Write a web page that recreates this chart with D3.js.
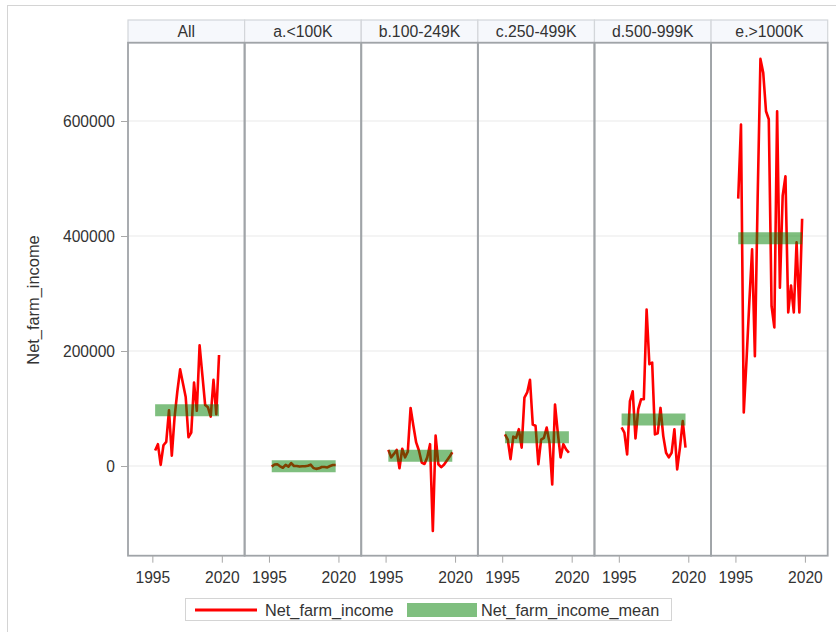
<!DOCTYPE html>
<html><head><meta charset="utf-8">
<script src="https://cdn.jsdelivr.net/npm/d3@7"></script>
<style>body{margin:0;background:#fff} text{font-family:"Liberation Sans",Arial,Helvetica,sans-serif;fill:#333}</style>
</head><body><svg id="c" width="836" height="632"></svg>
<script>
const categories = ["All","a.<100K","b.100-249K","c.250-499K","d.500-999K","e.>1000K"];
const years = [1996,1997,1998,1999,2000,2001,2002,2003,2004,2005,2006,2007,2008,2009,2010,2011,2012,2013,2014,2015,2016,2017,2018,2019];
const incomeAll = [27000,38000,2000,36000,42000,97000,18000,85000,130000,168000,144000,120000,50000,58000,145000,96000,210000,158000,106000,102000,86000,150000,90000,193000];
const incomeA = [-1000,2500,3000,-500,-3000,2000,-1000,5000,0,0,-1000,-500,-500,500,2300,-3500,-5000,-4000,-1700,-1700,-2500,0,1700,1700];
const incomeB = [28000,15000,21000,28000,-4000,30000,15000,25000,101000,70000,41000,27000,6000,3500,15000,38000,-113000,53000,3000,-2000,2000,9000,16000,24000];
const incomeC = [55000,46000,12000,51000,49000,64000,32000,119000,128000,150000,72000,70000,3000,46000,49000,67000,41000,-32000,107000,58000,15000,38000,29000,23000];
const incomeD = [67000,58000,20000,113000,130000,48000,99000,116000,116000,272000,177000,180000,55000,57000,101000,52000,23000,15000,23000,64000,-6000,32000,78000,32000];
const incomeE = [465000,594000,93000,185000,285000,377000,191000,467000,708000,684000,617000,603000,278000,241000,617000,310000,470000,504000,267000,314000,267000,389000,267000,430000];
const incomeMean = [97000,-500,18000,50000,81000,396000];
const yTicks = [0,200000,400000,600000];
const xTicks = [1995,2020];

const incomeSeries = [incomeAll,incomeA,incomeB,incomeC,incomeD,incomeE];

const svg = d3.select("#c");
const plotL=128, plotR=827.7, plotT=42.7, plotB=555.7, headT=20;

svg.append("rect").attr("x",7.5).attr("y",5.5).attr("width",840).attr("height",640)
  .attr("fill","none").attr("stroke","#d4d4d4");

const panel = d3.scaleBand().domain(categories).range([plotL,plotR]);
const x = d3.scaleLinear().domain([1986.24,2028.2]).range([0,panel.bandwidth()]);
const y = d3.scaleLinear().domain([-156000,736200]).range([plotB,plotT]);

// grid
svg.append("g").selectAll("line").data(yTicks).join("line")
  .attr("x1",plotL).attr("x2",plotR).attr("y1",d=>y(d)).attr("y2",d=>y(d))
  .attr("stroke","#e9e9e9").attr("stroke-width",1.2);

const line = d3.line().x((d,i)=>x(years[i])).y(d=>y(d));

categories.forEach((cat,ci)=>{
  const g = svg.append("g").attr("transform",`translate(${panel(cat)},0)`);
  g.append("path").datum(incomeSeries[ci]).attr("d",line)
    .attr("fill","none").attr("stroke","#ff0000").attr("stroke-width",2.6).attr("stroke-linejoin","round");
  g.append("line").attr("x1",x(years[0])).attr("x2",x(years[years.length-1]))
    .attr("y1",y(incomeMean[ci])).attr("y2",y(incomeMean[ci]))
    .attr("stroke","#008000").attr("stroke-opacity",0.5).attr("stroke-width",12);
  // header
  g.append("rect").attr("x",0).attr("y",headT).attr("width",panel.bandwidth()).attr("height",plotT-headT)
    .attr("fill","#f6f8fc").attr("stroke","#d3d6da").attr("stroke-width",1.2);
  g.append("text").attr("x",panel.bandwidth()/2).attr("y",36.5).attr("text-anchor","middle")
    .style("font-size","15.8px").text(cat);
  // panel frame
  g.append("rect").attr("x",0).attr("y",plotT).attr("width",panel.bandwidth()).attr("height",plotB-plotT)
    .attr("fill","none").attr("stroke","#a0a4a8").attr("stroke-width",1.8);
  // x axis
  const xa = g.append("g").attr("transform",`translate(0,${plotB})`)
    .call(d3.axisBottom(x).tickValues(xTicks).tickSize(7).tickPadding(9).tickFormat(d3.format("d")));
  xa.select(".domain").remove();
  xa.selectAll("line").attr("stroke","#a8a8a8");
  xa.selectAll("text").style("font-size","15.6px").style("font-family","Liberation Sans, Arial, sans-serif").attr("fill","#333");
});

// y axis
const ya = svg.append("g").attr("transform",`translate(${plotL},0)`)
  .call(d3.axisLeft(y).tickValues(yTicks).tickSize(7).tickPadding(6).tickFormat(d3.format("d")));
ya.select(".domain").remove();
ya.selectAll("line").attr("stroke","#a8a8a8");
ya.selectAll("text").style("font-size","15.6px").style("font-family","Liberation Sans, Arial, sans-serif").attr("fill","#333");

svg.append("text").attr("transform","translate(39,300) rotate(-90)").attr("text-anchor","middle")
  .style("font-size","16.4px").text("Net_farm_income");

// legend
const lg = svg.append("g");
lg.append("rect").attr("x",185.5).attr("y",598.5).attr("width",486).attr("height",22)
  .attr("fill","#fff").attr("stroke","#d4d4d4");
lg.append("line").attr("x1",195).attr("x2",257).attr("y1",610).attr("y2",610)
  .attr("stroke","#ff0000").attr("stroke-width",3);
lg.append("text").attr("x",265).attr("y",616).style("font-size","16.3px").text("Net_farm_income");
lg.append("rect").attr("x",407).attr("y",603).attr("width",70).attr("height",14)
  .attr("fill","#008000").attr("fill-opacity",0.5);
lg.append("text").attr("x",481).attr("y",616).style("font-size","16.3px").text("Net_farm_income_mean");
</script></body></html>
